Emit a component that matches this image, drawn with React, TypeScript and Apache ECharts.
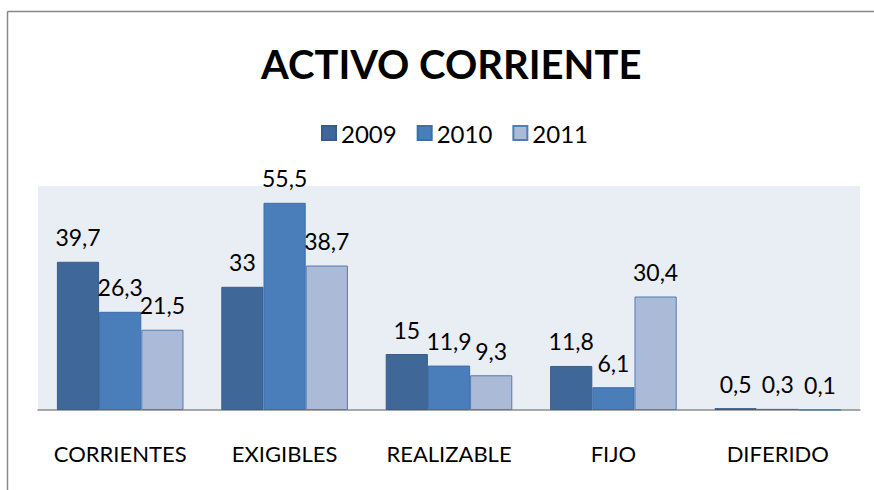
import React, { useEffect, useRef } from "react";
import * as echarts from "echarts";

const categories = ["CORRIENTES", "EXIGIBLES", "REALIZABLE", "FIJO", "DIFERIDO"];
const seriesNames = ["2009", "2010", "2011"];
const values2009 = [39.7, 33, 15, 11.8, 0.5];
const values2010 = [26.3, 55.5, 11.9, 6.1, 0.3];
const values2011 = [21.5, 38.7, 9.3, 30.4, 0.1];
const fills = ["#3F6899", "#4A7EBB", "#AABAD7"];
const borders = ["#385D8A", "#3C6EA8", "#4F7DB5"];

const FONT = "Lato, 'Open Sans', sans-serif";

export default function App() {
  const ref = useRef<HTMLDivElement>(null);
  useEffect(() => {
    document.body.style.margin = "0";
    const chart = echarts.init(ref.current!, null, { renderer: "svg" });
    const data = [values2009, values2010, values2011];
    chart.setOption({
      animation: false,
      backgroundColor: "#ffffff",
      title: {
        text: "ACTIVO CORRIENTE",
        left: 256,
        top: 39,
        textStyle: { fontFamily: FONT, fontWeight: "bold", fontSize: 40, color: "#000" },
      },
      legend: {
        data: seriesNames,
        top: 116,
        left: 316,
        itemWidth: 14,
        itemHeight: 14,
        itemGap: 20,
        icon: "rect",
        textStyle: { fontFamily: FONT, fontSize: 24, color: "#000" },
      },
      graphic: [
        { type: "line", shape: { x1: 7.5, y1: 11.5, x2: 874, y2: 11.5 }, style: { stroke: "#888", lineWidth: 1.5 } },
        { type: "line", shape: { x1: 7.5, y1: 11.5, x2: 7.5, y2: 490 }, style: { stroke: "#888", lineWidth: 1.5 } },
      ],
      grid: {
        left: 38,
        right: 14,
        top: 186,
        bottom: 80,
        show: true,
        backgroundColor: "#E9EDF4",
        borderWidth: 0,
      },
      xAxis: {
        type: "category",
        data: categories,
        axisLine: { lineStyle: { color: "#8C8C8C", width: 1.5 } },
        axisTick: { show: false },
        axisLabel: { interval: 0, fontFamily: FONT, fontSize: 22, color: "#000", margin: 32 },
      },
      yAxis: {
        type: "value",
        min: 0,
        max: 60,
        show: false,
        splitLine: { show: false },
      },
      series: seriesNames.map((name, i) => ({
        name,
        type: "bar",
        data: data[i],
        barGap: "0%",
        barCategoryGap: "23%",
        itemStyle: { color: fills[i], borderColor: borders[i], borderWidth: 1 },
        label: {
          show: true,
          position: "top",
          distance: 13,
          fontFamily: FONT,
          fontSize: 23,
          color: "#000",
          formatter: (p: any) => String(p.value).replace(".", ","),
        },
      })),
    });
    return () => chart.dispose();
  }, []);
  return <div ref={ref} style={{ width: 874, height: 490 }} />;
}
